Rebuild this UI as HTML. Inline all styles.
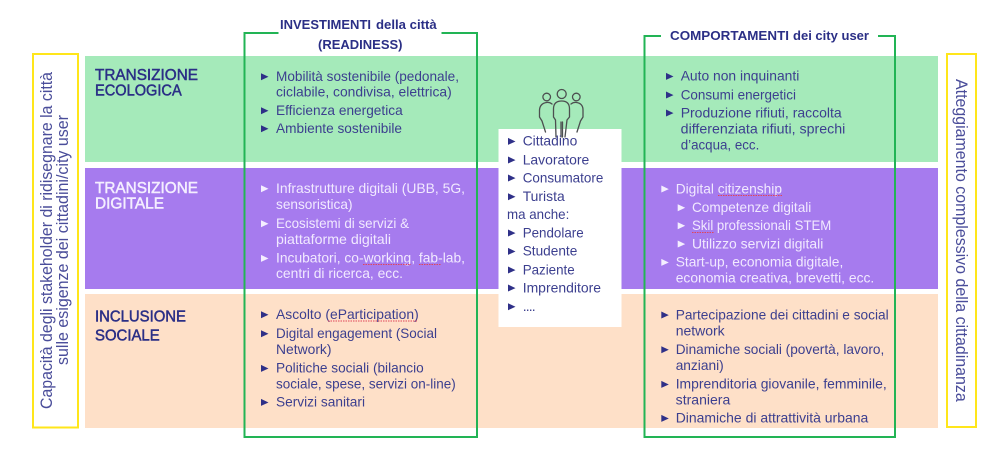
<!DOCTYPE html>
<html lang="it"><head><meta charset="utf-8"><title>Diagramma</title>
<style>
html,body{margin:0;padding:0;background:#fff;width:1004px;height:461px;overflow:hidden}
svg{display:block;filter:blur(.3px)}
text{font-family:"Liberation Sans",sans-serif;font-size:14px;fill:#3c3f8f}
.w text{fill:#f1e9ff}
text.t{font-size:15.5px;fill:#2b2f86;stroke:#2b2f86;stroke-width:.5}
.w text.t{fill:#f4eeff;stroke:#f4eeff}
text.h{font-size:13px;font-weight:bold;fill:#2b2f86}
text.v{font-size:16.5px;fill:#4a4d9a}
.tri{fill:#2f3088}
.triw{fill:#f4eeff}
.sq{fill:none;stroke:#e0455a;stroke-width:1;stroke-dasharray:1.5 1}
</style></head><body>
<svg width="1004" height="461" viewBox="0 0 1004 461" xmlns="http://www.w3.org/2000/svg">
<defs>
<path id="b" d="M0 -7.800L7.500 -4.200L0 -0.800Z" class="tri"/>
<path id="bw" d="M0 -7.800L7.500 -4.200L0 -0.800Z" class="triw"/>
</defs>
<rect x="85" y="56" width="853" height="106" fill="#a5eaba"/>
<rect x="85" y="168" width="853" height="121" fill="#a67bee"/>
<rect x="85" y="294" width="853" height="134" fill="#fee0c8"/>
<rect x="498.500" y="129" width="123" height="198" fill="#fff"/>

<rect x="33" y="54" width="45" height="373.500" fill="none" stroke="#ffe61a" stroke-width="2"/>
<rect x="947" y="54" width="29" height="373" fill="none" stroke="#ffe61a" stroke-width="2"/>

<path d="M278 33H477V437H244.500V33H278" fill="none" stroke="#22b455" stroke-width="2"/>
<rect x="278.500" y="28" width="163" height="10" fill="#fff"/>
<path d="M661 36H644.500V437H895V36H878" fill="none" stroke="#22b455" stroke-width="2"/>

<text class="h" x="280" y="29" textLength="91" lengthAdjust="spacingAndGlyphs">INVESTIMENTI</text>
<text class="h" x="376" y="29" textLength="60.700" lengthAdjust="spacingAndGlyphs">della città</text>
<text class="h" x="318" y="49" textLength="84.500" lengthAdjust="spacingAndGlyphs">(READINESS)</text>
<text class="h" x="670" y="40" textLength="119" lengthAdjust="spacingAndGlyphs">COMPORTAMENTI</text>
<text class="h" x="793" y="40" textLength="76" lengthAdjust="spacingAndGlyphs">dei city user</text>

<text class="t" x="95" y="80" textLength="103" lengthAdjust="spacingAndGlyphs">TRANSIZIONE</text>
<text class="t" x="95" y="95.700" textLength="86.700" lengthAdjust="spacingAndGlyphs">ECOLOGICA</text>
<g class="w">
<text class="t" x="95" y="193" textLength="103" lengthAdjust="spacingAndGlyphs">TRANSIZIONE</text>
<text class="t" x="95" y="208.700" textLength="69" lengthAdjust="spacingAndGlyphs">DIGITALE</text>
</g>
<text class="t" x="95" y="321.700" textLength="91" lengthAdjust="spacingAndGlyphs">INCLUSIONE</text>
<text class="t" x="95" y="340.700" textLength="64.700" lengthAdjust="spacingAndGlyphs">SOCIALE</text>

<!-- left column -->
<use href="#b" x="261" y="81"/><text x="276" y="81" textLength="183" lengthAdjust="spacingAndGlyphs">Mobilità sostenibile (pedonale,</text>
<text x="276" y="96.500" textLength="175.700" lengthAdjust="spacingAndGlyphs">ciclabile, condivisa, elettrica)</text>
<use href="#b" x="261" y="115"/><text x="276" y="115" textLength="126.700" lengthAdjust="spacingAndGlyphs">Efficienza energetica</text>
<use href="#b" x="261" y="133"/><text x="276" y="133" textLength="126" lengthAdjust="spacingAndGlyphs">Ambiente sostenibile</text>
<g class="w">
<use href="#bw" x="261" y="193"/><text x="276" y="193" textLength="189" lengthAdjust="spacingAndGlyphs">Infrastrutture digitali (UBB, 5G,</text>
<text x="276" y="209" textLength="76.500" lengthAdjust="spacingAndGlyphs">sensoristica)</text>
<use href="#bw" x="261" y="228"/><text x="276" y="228" textLength="133" lengthAdjust="spacingAndGlyphs">Ecosistemi di servizi &amp;</text>
<text x="276" y="244" textLength="115" lengthAdjust="spacingAndGlyphs">piattaforme digitali</text>
<use href="#bw" x="261" y="262.700"/><text x="276" y="262.700" textLength="189" lengthAdjust="spacingAndGlyphs">Incubatori, co-working, fab-lab,</text>
<text x="276" y="278" textLength="127" lengthAdjust="spacingAndGlyphs">centri di ricerca, ecc.</text>
</g>
<use href="#b" x="261" y="319"/><text x="276" y="319" textLength="142.700" lengthAdjust="spacingAndGlyphs">Ascolto (eParticipation)</text>
<use href="#b" x="261" y="338"/><text x="276" y="338" textLength="161" lengthAdjust="spacingAndGlyphs">Digital engagement (Social</text>
<text x="276" y="354" textLength="55.500" lengthAdjust="spacingAndGlyphs">Network)</text>
<use href="#b" x="261" y="372.700"/><text x="276" y="372.700" textLength="147.700" lengthAdjust="spacingAndGlyphs">Politiche sociali (bilancio</text>
<text x="276" y="388.700" textLength="179.700" lengthAdjust="spacingAndGlyphs">sociale, spese, servizi on-line)</text>
<use href="#b" x="261" y="406.700"/><text x="276" y="406.700" textLength="89" lengthAdjust="spacingAndGlyphs">Servizi sanitari</text>

<!-- centre -->
<g fill="none" stroke="#4c4f50" stroke-width="1.300" stroke-linecap="round" stroke-linejoin="round">
<circle cx="561.700" cy="94" r="4.500"/>
<circle cx="546.700" cy="97" r="3.800"/>
<circle cx="576.300" cy="97" r="3.800"/>
<path d="M556 137L555.500 120L553.500 117V109Q553.500 101 561.700 101Q569.500 101 569.500 109V117L567 120L565 137"/>
<path d="M561 137V122M562.500 137V122"/>
<path d="M552 104Q549.500 102 546.500 102.500Q540 103.500 539.500 110V117L542 121L545.500 132"/>
<path d="M571 104Q573.500 102 576.500 102.500Q583 103.500 583 110V117L580.500 121L577 132"/>
</g>
<use href="#b" x="508" y="145.700"/><text x="522.700" y="145.700" textLength="54.600" lengthAdjust="spacingAndGlyphs">Cittadino</text>
<use href="#b" x="508" y="164.300"/><text x="522.700" y="164.300" textLength="66.600" lengthAdjust="spacingAndGlyphs">Lavoratore</text>
<use href="#b" x="508" y="182.300"/><text x="522.700" y="182.300" textLength="80.600" lengthAdjust="spacingAndGlyphs">Consumatore</text>
<use href="#b" x="508" y="201"/><text x="522.700" y="201" textLength="42" lengthAdjust="spacingAndGlyphs">Turista</text>
<text x="507" y="219" textLength="62.300" lengthAdjust="spacingAndGlyphs">ma anche:</text>
<use href="#b" x="508" y="237.300"/><text x="522.700" y="237.300" textLength="61" lengthAdjust="spacingAndGlyphs">Pendolare</text>
<use href="#b" x="508" y="255.700"/><text x="522.700" y="255.700" textLength="54.600" lengthAdjust="spacingAndGlyphs">Studente</text>
<use href="#b" x="508" y="274.300"/><text x="522.700" y="274.300" textLength="52" lengthAdjust="spacingAndGlyphs">Paziente</text>
<use href="#b" x="508" y="292.300"/><text x="522.700" y="292.300" textLength="78.300" lengthAdjust="spacingAndGlyphs">Imprenditore</text>
<use href="#b" x="508" y="311"/><text x="522.700" y="311" textLength="13" lengthAdjust="spacing">....</text>

<!-- right column -->
<use href="#b" x="666" y="80.700"/><text x="680.700" y="80.700" textLength="118.600" lengthAdjust="spacingAndGlyphs">Auto non inquinanti</text>
<use href="#b" x="666" y="99.300"/><text x="680.700" y="99.300" textLength="115.300" lengthAdjust="spacingAndGlyphs">Consumi energetici</text>
<use href="#b" x="666" y="117.300"/><text x="680.700" y="117.300" textLength="161" lengthAdjust="spacingAndGlyphs">Produzione rifiuti, raccolta</text>
<text x="680.700" y="133.300" textLength="164.600" lengthAdjust="spacingAndGlyphs">differenziata rifiuti, sprechi</text>
<text x="680.700" y="149.700" textLength="78.600" lengthAdjust="spacingAndGlyphs">d’acqua, ecc.</text>
<g class="w">
<use href="#bw" x="661.300" y="193.300"/><text x="675.700" y="193.300" textLength="106.300" lengthAdjust="spacingAndGlyphs">Digital citizenship</text>
<use href="#bw" x="677.700" y="212"/><text x="692" y="212" textLength="119.300" lengthAdjust="spacingAndGlyphs">Competenze digitali</text>
<use href="#bw" x="677.700" y="230"/><text x="692" y="230" textLength="139.300" lengthAdjust="spacingAndGlyphs">Skil professionali STEM</text>
<use href="#bw" x="677.700" y="248.300"/><text x="692" y="248.300" textLength="131.300" lengthAdjust="spacingAndGlyphs">Utilizzo servizi digitali</text>
<use href="#bw" x="661.300" y="266.700"/><text x="675.700" y="266.700" textLength="167.600" lengthAdjust="spacingAndGlyphs">Start-up, economia digitale,</text>
<text x="675.700" y="282.700" textLength="198.600" lengthAdjust="spacingAndGlyphs">economia creativa, brevetti, ecc.</text>
</g>
<use href="#b" x="661.300" y="319.300"/><text x="675.700" y="319.300" textLength="213" lengthAdjust="spacingAndGlyphs">Partecipazione dei cittadini e social</text>
<text x="675.700" y="335.300" textLength="49" lengthAdjust="spacingAndGlyphs">network</text>
<use href="#b" x="661.300" y="354"/><text x="675.700" y="354" textLength="208.600" lengthAdjust="spacingAndGlyphs">Dinamiche sociali (povertà, lavoro,</text>
<text x="675.700" y="370" textLength="48" lengthAdjust="spacingAndGlyphs">anziani)</text>
<use href="#b" x="661.300" y="388.700"/><text x="675.700" y="388.700" textLength="211" lengthAdjust="spacingAndGlyphs">Imprenditoria giovanile, femminile,</text>
<text x="675.700" y="404.300" textLength="54.600" lengthAdjust="spacingAndGlyphs">straniera</text>
<use href="#b" x="661.300" y="422.700"/><text x="675.700" y="422.700" textLength="192.600" lengthAdjust="spacingAndGlyphs">Dinamiche di attrattività urbana</text>

<!-- squiggles -->
<path class="sq" d="M363 264.500H411M419 264.500H441M328 321H417M718 195.500H782M692 232.500H714"/>

<!-- vertical -->
<text class="v" transform="translate(52 409) rotate(-90)" textLength="337" lengthAdjust="spacingAndGlyphs">Capacità degli stakeholder di ridisegnare la città</text>
<text class="v" transform="translate(68 365) rotate(-90)" textLength="250" lengthAdjust="spacingAndGlyphs">sulle esigenze dei cittadini/city user</text>
<text class="v" transform="translate(956 79) rotate(90)" textLength="322.700" lengthAdjust="spacingAndGlyphs">Atteggiamento complessivo della cittadinanza</text>
</svg>
</body></html>
